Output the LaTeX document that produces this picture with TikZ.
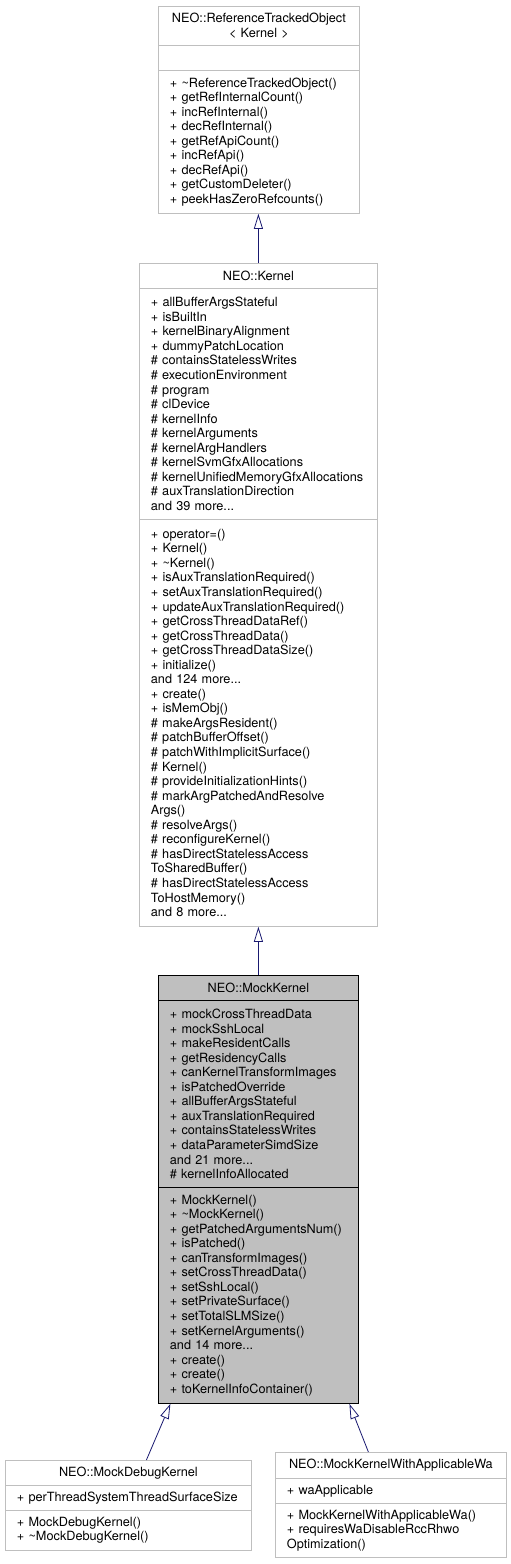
\documentclass[tikz,border=0pt]{standalone}
\usepackage{fontspec}
\newfontfamily\doxfont{TeX Gyre Heros}
\newcommand\doxtext{\doxfont\fontsize{12.7bp}{14.55bp}\selectfont\hyphenpenalty=10000\relax}
\usetikzlibrary{arrows.meta}
\definecolor{boxgray}{HTML}{BFBFBF}
\definecolor{edgeblue}{HTML}{191970}

\begin{document}
\begin{tikzpicture}[x=1bp,y=-1bp,
	every node/.style={anchor=north west,inner xsep=11.5bp,inner ysep=0pt,line width=0.8bp,font=\doxtext},
	cls/.style={draw=boxgray,fill=white},
	cur/.style={draw=black,fill=boxgray},
	title/.style={align=center},
	body/.style={align=left},
	inherit/.style={draw=edgeblue,line width=0.8bp,-{Triangle[open,length=15bp,width=9bp]}}]

		\useasboundingbox (0,0) rectangle (511,1564);

		%ReferenceTrackedObject
		\node[cls,title,text width=178bp,minimum height=39bp] (rtot) at (158,6) {NEO::ReferenceTrackedObject\\< Kernel >};
		\node[cls,body,text width=178bp,minimum height=25bp] (rtoa) at (158,45) {};
		\node[cls,body,text width=178bp,minimum height=143bp] (rtom) at (158,70) {+ \textasciitilde ReferenceTrackedObject()\\+ getRefInternalCount()\\+ incRefInternal()\\+ decRefInternal()\\+ getRefApiCount()\\+ incRefApi()\\+ decRefApi()\\+ getCustomDeleter()\\+ peekHasZeroRefcounts()};

		%Kernel
		\node[cls,title,text width=215bp,minimum height=25bp] (kt) at (139,263) {NEO::Kernel};
		\node[cls,body,text width=215bp,minimum height=231bp] (ka) at (139,288) {+ allBufferArgsStateful\\+ isBuiltIn\\+ kernelBinaryAlignment\\+ dummyPatchLocation\\\# containsStatelessWrites\\\# executionEnvironment\\\# program\\\# clDevice\\\# kernelInfo\\\# kernelArguments\\\# kernelArgHandlers\\\# kernelSvmGfxAllocations\\\# kernelUnifiedMemoryGfxAllocations\\\# auxTranslationDirection\\and 39 more...};
		\node[cls,body,text width=215bp,minimum height=407bp] (km) at (139,519) {+ operator=()\\+ Kernel()\\+ \textasciitilde Kernel()\\+ isAuxTranslationRequired()\\+ setAuxTranslationRequired()\\+ updateAuxTranslationRequired()\\+ getCrossThreadDataRef()\\+ getCrossThreadData()\\+ getCrossThreadDataSize()\\+ initialize()\\and 124 more...\\+ create()\\+ isMemObj()\\\# makeArgsResident()\\\# patchBufferOffset()\\\# patchWithImplicitSurface()\\\# Kernel()\\\# provideInitializationHints()\\\# markArgPatchedAndResolve\\Args()\\\# resolveArgs()\\\# reconfigureKernel()\\\# hasDirectStatelessAccess\\ToSharedBuffer()\\\# hasDirectStatelessAccess\\ToHostMemory()\\and 8 more...};

		%MockKernel
		\node[cur,title,text width=177bp,minimum height=25bp] (mkt) at (158,975) {NEO::MockKernel};
		\node[cur,body,text width=177bp,minimum height=187bp] (mka) at (158,1000) {+ mockCrossThreadData\\+ mockSshLocal\\+ makeResidentCalls\\+ getResidencyCalls\\+ canKernelTransformImages\\+ isPatchedOverride\\+ allBufferArgsStateful\\+ auxTranslationRequired\\+ containsStatelessWrites\\+ dataParameterSimdSize\\and 21 more...\\\# kernelInfoAllocated};
		\node[cur,body,text width=177bp,minimum height=216bp] (mkm) at (158,1187) {+ MockKernel()\\+ \textasciitilde MockKernel()\\+ getPatchedArgumentsNum()\\+ isPatched()\\+ canTransformImages()\\+ setCrossThreadData()\\+ setSshLocal()\\+ setPrivateSurface()\\+ setTotalSLMSize()\\+ setKernelArguments()\\and 14 more...\\+ create()\\+ create()\\+ toKernelInfoContainer()};

		%MockDebugKernel
		\node[cls,title,text width=223bp,minimum height=25bp] (mdt) at (5,1460) {NEO::MockDebugKernel};
		\node[cls,body,text width=223bp,minimum height=25bp] (mda) at (5,1485) {+ perThreadSystemThreadSurfaceSize};
		\node[cls,body,text width=223bp,minimum height=40bp] (mdm) at (5,1510) {+ MockDebugKernel()\\+ \textasciitilde MockDebugKernel()};

		%MockKernelWithApplicableWa
		\node[cls,title,text width=208bp,minimum height=26bp] (mwt) at (275,1452) {NEO::MockKernelWithApplicableWa};
		\node[cls,body,text width=208bp,minimum height=25bp] (mwa) at (275,1478) {+ waApplicable};
		\node[cls,body,text width=208bp,minimum height=54bp] (mwm) at (275,1503) {+ MockKernelWithApplicableWa()\\+ requiresWaDisableRccRhwo\\Optimization()};

		%inheritance
		\draw[inherit] (kt.north) -- (kt.north |- rtom.south);
		\draw[inherit] (mkt.north) -- (mkt.north |- km.south);
		\draw[inherit] ([xshift=18bp]mdt.north) -- ([xshift=-88bp]mkm.south);
		\draw[inherit] ([xshift=-22.5bp]mwt.north) -- ([xshift=91bp]mkm.south);
\end{tikzpicture}
\end{document}
